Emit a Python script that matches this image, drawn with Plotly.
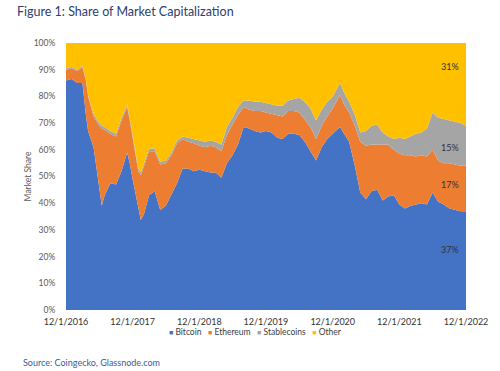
import plotly.graph_objects as go

dates = [
    "2016-12-01", "2017-01-01", "2017-02-01", "2017-03-01", "2017-03-20", "2017-04-01",
    "2017-05-01", "2017-06-01", "2017-06-15", "2017-07-01", "2017-08-01", "2017-09-01",
    "2017-10-01", "2017-11-01", "2017-11-15", "2017-12-01", "2018-01-01", "2018-01-15",
    "2018-02-01", "2018-03-01", "2018-04-01", "2018-05-01", "2018-06-01", "2018-07-01",
    "2018-08-01", "2018-09-01", "2018-10-01", "2018-11-01", "2018-12-01", "2019-01-01",
    "2019-02-01", "2019-03-01", "2019-04-01", "2019-05-01", "2019-06-01", "2019-07-01",
    "2019-08-01", "2019-09-01", "2019-10-01", "2019-11-01", "2019-12-01", "2020-01-01",
    "2020-02-01", "2020-03-01", "2020-04-01", "2020-05-01", "2020-06-01", "2020-07-01",
    "2020-08-01", "2020-09-01", "2020-10-01", "2020-11-01", "2020-12-01", "2021-01-10",
    "2021-02-01", "2021-03-01", "2021-04-01", "2021-05-01", "2021-06-01", "2021-07-01",
    "2021-08-01", "2021-09-01", "2021-10-01", "2021-11-01", "2021-12-01", "2022-01-01",
    "2022-02-01", "2022-03-01", "2022-04-01", "2022-05-01", "2022-06-01", "2022-07-01",
    "2022-08-01", "2022-09-01", "2022-10-01", "2022-11-01", "2022-12-01",
]

bitcoin = [
    86, 86.5, 85, 85, 73, 67, 61, 46, 39, 43, 47.5, 47, 52, 59, 55, 49, 38, 33.7,
    36, 43, 44.5, 37.5, 39, 43, 47.5, 53, 53, 52, 52.5, 52, 51.5, 51.5, 49.5, 55,
    58, 62, 68.5, 68, 67, 66.5, 67, 66.5, 64.5, 64, 66, 66, 65.5, 63, 59.5, 56,
    61, 64, 66, 68.5, 66, 63, 54, 44, 41.5, 44.5, 45, 41, 42.5, 43, 39.5, 38,
    39, 39.5, 40, 39.5, 44, 40.5, 39.5, 38, 37.5, 37, 37,
]
ethereum = [
    4, 4, 4.5, 6, 13, 13, 11.5, 23, 29, 24.5, 18.5, 18, 19, 17, 16, 15, 14, 16.8,
    18, 16.5, 15, 17, 16, 15, 15, 11, 10, 10.5, 9, 9, 10, 9.5, 10, 10.5,
    11.5, 11, 7.5, 7, 7.5, 8, 7, 7, 8.5, 8.5, 8.5, 8.5, 8.5, 8.5, 9, 8,
    8, 8.5, 9.5, 12, 11, 11, 15, 19, 20, 17.5, 17, 21, 19.5, 17, 19, 20,
    19, 18, 18, 18, 16, 15.5, 15.5, 17, 17, 17, 17,
]
stablecoins = [
    0.5, 0.5, 0.5, 0.5, 0.5, 0.5, 1, 1, 1, 1, 1, 1, 1, 1, 1, 1, 1, 1,
    1, 1, 1, 1, 1, 1, 1, 1, 1.5, 1.5, 2, 2, 2, 2, 2.5, 3,
    2.5, 3, 2.5, 3.5, 3.5, 3.5, 3.5, 3.5, 3.5, 4, 4, 4.5, 5.5, 6.5, 7, 7,
    6, 5.5, 4.5, 4.5, 4.5, 4, 4, 3.5, 5.5, 7, 7.5, 4.5, 3, 4, 6, 6,
    7, 8.5, 8.5, 10.5, 14, 16, 16.5, 16, 16, 16, 15,
]
other = [
    9.5, 9, 10, 8.5, 13.5, 19.5, 26.5, 30, 31, 31.5, 33, 34, 28, 23, 28, 35, 47, 48.5,
    45, 39.5, 39.5, 44.5, 44, 41, 36.5, 35, 35.5, 36, 36.5, 37, 36.5, 37, 38, 31.5,
    28, 24, 21.5, 21.5, 22, 22, 22.5, 23, 23.5, 23.5, 21.5, 21, 20.5, 22, 24.5, 29,
    25, 22, 20, 15, 18.5, 22, 27, 33.5, 33, 31, 30.5, 33.5, 35, 36, 35.5, 36,
    35, 34, 33.5, 32, 26, 28, 28.5, 29, 29.5, 30, 31,
]

series_names = ["Bitcoin", "Ethereum", "Stablecoins", "Other"]
series_colors = ["#4472C4", "#ED7D31", "#A5A5A5", "#FFC000"]
series_values = [bitcoin, ethereum, stablecoins, other]

tick_dates = ["2016-12-01", "2017-12-01", "2018-12-01", "2019-12-01",
              "2020-12-01", "2021-12-01", "2022-12-01"]
tick_labels = ["12/1/2016", "12/1/2017", "12/1/2018", "12/1/2019",
               "12/1/2020", "12/1/2021", "12/1/2022"]

end_labels = ["37%", "17%", "15%", "31%"]
end_label_y = [22.5, 46.9, 60.7, 91.1]
end_label_x = "2022-09-05"

FONT = "Lato, 'Open Sans', sans-serif"

fig = go.Figure()
for name, color, vals in zip(series_names, series_colors, series_values):
    fig.add_trace(go.Scatter(
        x=dates, y=vals, name=name, mode="lines",
        stackgroup="one", line=dict(width=0, color=color),
        fillcolor=color, hoverinfo="skip", showlegend=False,
    ))

for txt, yv in zip(end_labels, end_label_y):
    fig.add_annotation(x=end_label_x, y=yv, xref="x", yref="y", text=txt,
                       showarrow=False, font=dict(size=9, color="#333333", family=FONT))

# legend row (swatch + name for each series)
legend_parts = []
for name, color in zip(series_names, series_colors):
    legend_parts.append(
        f"<span style='color:{color};font-size:7px'>\u25A0</span>\u00a0{name}")
legend_text = "\u00a0\u00a0\u00a0".join(legend_parts)
fig.add_annotation(x=0.473, y=-0.0824, xref="paper", yref="paper", xanchor="center",
                   yanchor="middle", text=legend_text, showarrow=False,
                   font=dict(size=8.5, color="#404040", family=FONT))

fig.add_annotation(x=-0.112, y=-0.195, xref="paper", yref="paper", xanchor="left",
                   yanchor="middle", text="Source: Coingecko, Glassnode.com",
                   showarrow=False, font=dict(size=9, color="#3B5A9A", family=FONT))

fig.update_layout(
    width=500, height=371,
    margin=dict(l=66, r=32, t=43, b=61),
    paper_bgcolor="white", plot_bgcolor="white",
    title=dict(text="Figure 1: Share of Market Capitalization",
               x=0.034, xref="container", xanchor="left",
               y=1 - 12 / 371, yref="container", yanchor="middle",
               font=dict(size=12.5, color="#2D4070", family=FONT)),
    showlegend=False,
    font=dict(family=FONT),
)
fig.update_xaxes(
    type="date", range=["2016-12-01", "2022-12-01"],
    tickvals=tick_dates, ticktext=tick_labels,
    showgrid=False, zeroline=False, showline=False,
    ticks="outside", ticklen=3, tickcolor="rgba(0,0,0,0)",
    tickfont=dict(size=9, color="#333333", family=FONT),
)
fig.update_yaxes(
    range=[0, 100], dtick=10, ticksuffix="%",
    showgrid=False, zeroline=False, showline=False,
    ticks="outside", ticklen=8, tickcolor="rgba(0,0,0,0)",
    tickfont=dict(size=8.5, color="#595959", family=FONT),
    title=dict(text="Market Share", standoff=0,
               font=dict(size=8.5, color="#595959", family=FONT)),
)

fig.write_html("out.html", config={"displayModeBar": False},
               post_script="document.body.style.margin='0';document.body.style.padding='0';")
